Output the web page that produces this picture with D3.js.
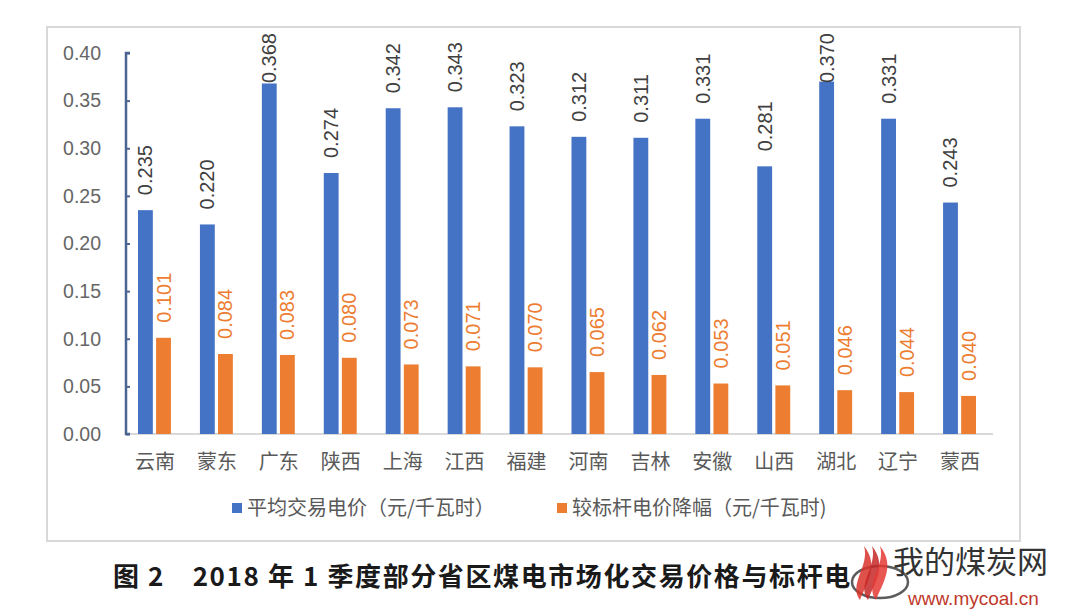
<!DOCTYPE html>
<html>
<head>
<meta charset="utf-8">
<script src="https://cdn.jsdelivr.net/npm/d3@7"></script>
<style>
  body { margin: 0; background: #fff; }
  svg { display: block; }
</style>
</head>
<body>
<svg id="chart" width="1080" height="613"></svg>
<script>
const categories = ["云南", "蒙东", "广东", "陕西", "上海", "江西", "福建", "河南", "吉林", "安徽", "山西", "湖北", "辽宁", "蒙西"];
const avgPrice = [0.235, 0.220, 0.368, 0.274, 0.342, 0.343, 0.323, 0.312, 0.311, 0.331, 0.281, 0.370, 0.331, 0.243];
const priceDrop = [0.101, 0.084, 0.083, 0.080, 0.073, 0.071, 0.070, 0.065, 0.062, 0.053, 0.051, 0.046, 0.044, 0.040];
const yTicks = [0, 0.05, 0.10, 0.15, 0.20, 0.25, 0.30, 0.35, 0.40];
const seriesNames = ["平均交易电价（元/千瓦时）", "较标杆电价降幅（元/千瓦时)"];
const caption = "图 2　2018 年 1 季度部分省区煤电市场化交易价格与标杆电";

const colors = ["#4472C4", "#ED7D31"];
const labelColors = ["#404040", "#ED7D31"];
const font = "'Liberation Sans', Arial, sans-serif";
const cjk = "'Noto Sans CJK SC', sans-serif";

const svg = d3.select("#chart");

// outer frame
svg.append("rect")
  .attr("x", 47).attr("y", 27)
  .attr("width", 973).attr("height", 514)
  .attr("fill", "#fff")
  .attr("stroke", "#d9d9d9")
  .attr("stroke-width", 2);

const plotLeft = 126, plotRight = 993, plotTop = 53, plotBottom = 434;
const labelCeil = 33; // labels can't go above the chart area

const x = d3.scaleBand().domain(categories).range([plotLeft, plotRight]);
const xs = d3.scaleBand().domain([0, 1]).range([12, x.bandwidth() - 17]).paddingInner(0.18);
const y = d3.scaleLinear().domain([0, 0.4]).range([plotBottom, plotTop]);

// baseline
svg.append("line")
  .attr("x1", plotLeft).attr("x2", plotRight)
  .attr("y1", y(0)).attr("y2", y(0))
  .attr("stroke", "#d9d9d9").attr("stroke-width", 2);

// y axis
const yAxis = svg.append("g")
  .attr("transform", `translate(${plotLeft},0)`)
  .call(d3.axisRight(y).tickValues(yTicks).tickSize(4).tickFormat(""));
yAxis.select(".domain").attr("stroke", "#4a6591").attr("stroke-width", 2.5)
  .attr("d", `M4,${y(0.4)}H0V${y(0)}H4`);
yAxis.selectAll(".tick line").attr("stroke", "#4a6591").attr("stroke-width", 2);

svg.append("g").selectAll("text")
  .data(yTicks)
  .join("text")
  .attr("x", 101)
  .attr("y", d => y(d))
  .attr("dy", "0.35em")
  .attr("text-anchor", "end")
  .attr("font-family", font)
  .attr("font-size", 19.5)
  .attr("fill", "#666")
  .text(d => d3.format(".2f")(d));

// category labels
svg.append("g").selectAll("text")
  .data(categories)
  .join("text")
  .attr("x", d => x(d) + x.bandwidth() / 2 - 2)
  .attr("y", 462)
  .attr("dy", "0.35em")
  .attr("text-anchor", "middle")
  .attr("font-family", cjk)
  .attr("font-size", 20)
  .attr("fill", "#595959")
  .text(d => d);

// bars
const series = [avgPrice, priceDrop];
series.forEach((vals, si) => {
  const g = svg.append("g");
  g.selectAll("rect")
    .data(vals)
    .join("rect")
    .attr("x", (d, i) => x(categories[i]) + xs(si))
    .attr("y", d => y(d))
    .attr("width", xs.bandwidth())
    .attr("height", d => y(0) - y(d))
    .attr("fill", colors[si]);
  g.selectAll("text")
    .data(vals)
    .join("text")
    .attr("dy", "0.35em")
    .attr("text-anchor", "start")
    .attr("font-family", font)
    .attr("font-size", 20)
    .attr("fill", labelColors[si])
    .text(d => d3.format(".3f")(d))
    .each(function (d, i) {
      const len = this.getComputedTextLength();
      const start = Math.max(y(d) - 15, labelCeil + len);
      const cx = x(categories[i]) + xs(si) + xs.bandwidth() / 2;
      d3.select(this).attr("transform", `translate(${cx},${start}) rotate(-90)`);
    });
});

// legend
const legendX = [232, 557];
const legend = svg.append("g");
seriesNames.forEach((name, i) => {
  legend.append("rect")
    .attr("x", legendX[i]).attr("y", 503)
    .attr("width", 10).attr("height", 10)
    .attr("fill", colors[i]);
  legend.append("text")
    .attr("x", legendX[i] + 15).attr("y", 508)
    .attr("dy", "0.35em")
    .attr("font-family", cjk)
    .attr("font-size", 20)
    .attr("fill", "#595959")
    .text(name);
});

// caption
svg.append("text")
  .attr("x", 113).attr("y", 577)
  .attr("dy", "0.35em")
  .attr("font-family", cjk)
  .attr("font-weight", "bold")
  .attr("font-size", 26)
  .attr("letter-spacing", 1.6)
  .attr("fill", "#1a1a1a")
  .text(caption);

// watermark
const wm = svg.append("g");
wm.append("ellipse")
  .attr("cx", 880).attr("cy", 582).attr("rx", 28).attr("ry", 16)
  .attr("fill", "none").attr("stroke", "#333").attr("stroke-width", 2.5)
  .attr("opacity", 0.8);
[[-8, "#d9342b"], [0, "#c62828"], [8, "#e53935"]].forEach(([dx, c]) => {
  wm.append("path")
    .attr("d", `M${868 + dx},600 C${856 + dx},584 ${878 + dx},566 ${872 + dx},546 C${888 + dx},566 ${874 + dx},584 ${868 + dx},600 Z`)
    .attr("fill", c).attr("opacity", 0.85);
});
wm.append("text")
  .attr("x", 893).attr("y", 562)
  .attr("dy", "0.35em")
  .attr("font-family", cjk)
  .attr("font-size", 31)
  .attr("fill", "#333")
  .text("我的煤炭网");
wm.append("text")
  .attr("x", 908).attr("y", 598)
  .attr("dy", "0.35em")
  .attr("font-family", font)
  .attr("font-size", 19)
  .attr("fill", "#c0392b")
  .text("www.mycoal.cn");
</script>
</body>
</html>
